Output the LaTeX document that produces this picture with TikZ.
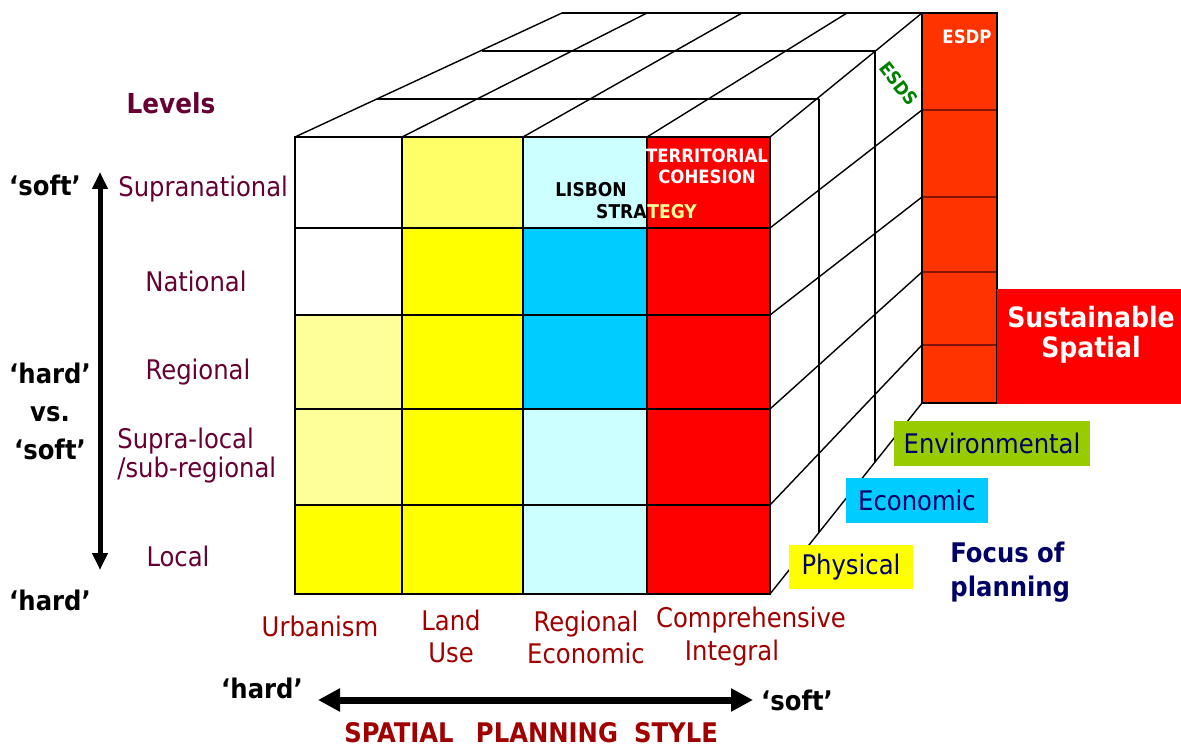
\documentclass[tikz,border=0pt]{standalone}
\usepackage{fontspec}
\setmainfont{DejaVu Sans Condensed}
\usetikzlibrary{arrows.meta}
\definecolor{maroon}{RGB}{102,0,51}
\definecolor{dred}{RGB}{160,0,0}
\definecolor{navy}{RGB}{0,0,102}
\definecolor{cyel}{RGB}{255,255,0}
\definecolor{lyel}{RGB}{255,255,102}
\definecolor{pyel}{RGB}{255,255,153}
\definecolor{ccyan}{RGB}{0,204,255}
\definecolor{lcyan}{RGB}{204,255,255}
\definecolor{cred}{RGB}{255,0,0}
\definecolor{corange}{RGB}{255,51,0}
\definecolor{cgreen}{RGB}{153,204,0}
\definecolor{tgreen}{RGB}{0,128,0}
\definecolor{tyel}{RGB}{255,255,153}
\tikzset{
  gridline/.style={draw=black, line width=0.7pt},
  lvl/.style={text=maroon, inner sep=0pt, font=\fontsize{13.5}{14.5}\selectfont},
  hs/.style={text=black, inner sep=0pt, align=center, font=\bfseries\fontsize{13.5}{19}\selectfont},
  stylelab/.style={text=dred, inner sep=0pt, align=center, font=\fontsize{13.5}{16}\selectfont},
  focuslab/.style={text=navy, inner sep=0pt, font=\fontsize{13.5}{16}\selectfont},
  smallbold/.style={inner sep=0pt, align=center, font=\bfseries\fontsize{9.2}{10.5}\selectfont},
  bigarrow/.style={line width=2.5pt, {Triangle[length=8.5pt,width=7.5pt]}-{Triangle[length=8.5pt,width=7.5pt]}},
  harrow/.style={line width=3.5pt, {Triangle[length=11pt,width=11pt]}-{Triangle[length=11pt,width=11pt]}}
}
\begin{document}
\begin{tikzpicture}[x=0.5pt,y=-0.5pt]
\useasboundingbox (0,0) rectangle (1181,747);
% ---------- front face cells ----------
% row 1
\fill[white] (295,137) rectangle (402,228);
\fill[lyel]  (402,137) rectangle (523,228);
\fill[lcyan] (523,137) rectangle (647,228);
\fill[cred]  (647,137) rectangle (770,228);
% row 2
\fill[white] (295,228) rectangle (402,315);
\fill[cyel]  (402,228) rectangle (523,315);
\fill[ccyan] (523,228) rectangle (647,315);
\fill[cred]  (647,228) rectangle (770,315);
% row 3
\fill[pyel]  (295,315) rectangle (402,409);
\fill[cyel]  (402,315) rectangle (523,409);
\fill[ccyan] (523,315) rectangle (647,409);
\fill[cred]  (647,315) rectangle (770,409);
% row 4
\fill[pyel]  (295,409) rectangle (402,505);
\fill[cyel]  (402,409) rectangle (523,505);
\fill[lcyan] (523,409) rectangle (647,505);
\fill[cred]  (647,409) rectangle (770,505);
% row 5
\fill[cyel]  (295,505) rectangle (402,594);
\fill[cyel]  (402,505) rectangle (523,594);
\fill[lcyan] (523,505) rectangle (647,594);
\fill[cred]  (647,505) rectangle (770,594);
% front grid
\draw[gridline] (295,137) rectangle (770,594);
\foreach \yy in {228,315,409,505} \draw[gridline] (295,\yy) -- (770,\yy);
\foreach \xx in {402,523,647} \draw[gridline] (\xx,137) -- (\xx,594);
% ---------- top face ----------
\draw[gridline] (295,137) -- (562,13);
\draw[gridline] (402,137) -- (647,13);
\draw[gridline] (523,137) -- (742,13);
\draw[gridline] (647,137) -- (847,13);
\draw[gridline] (770,137) -- (922,13);
\draw[gridline] (377,99) -- (819,99);
\draw[gridline] (482,51) -- (875,51);
\draw[gridline] (562,13) -- (922,13);
% ---------- right face ----------
\draw[gridline] (819,99) -- (819,532);
\draw[gridline] (875,51) -- (875,462);
\draw[gridline] (770,228) -- (922,110);
\draw[gridline] (770,315) -- (922,197);
\draw[gridline] (770,409) -- (922,272);
\draw[gridline] (770,505) -- (922,345);
\draw[gridline] (770,594) -- (922,403);
% ---------- ESDP column ----------
\fill[corange] (922,13) rectangle (997,403);
\foreach \yy in {110,197,272,345} \draw[line width=0.7pt, draw={rgb,255:red,130;green,20;blue,0}] (922,\yy) -- (997,\yy);
\draw[gridline] (922,13) rectangle (997,403);
% ---------- Sustainable box ----------
\fill[cred] (997,289) rectangle (1181,404);
\node[inner sep=0pt, text=white, align=center, font=\bfseries\fontsize{14}{15}\selectfont] (sust) at (1091,335) {Sustainable\\Spatial};
% ---------- focus boxes ----------
\node[focuslab, fill=cgreen, minimum width=98pt, minimum height=22.5pt] (env) at (992,443.5) {Environmental};
\node[focuslab, fill=ccyan, minimum width=71pt, minimum height=22.5pt] (eco) at (917,500.5) {Economic};
\node[focuslab, fill=cyel, minimum width=62pt, minimum height=22pt] (phy) at (851,567) {Physical};
\node[focuslab, anchor=west, align=left, font=\bfseries\fontsize{13.5}{17}\selectfont] (focus) at (950,572) {Focus of\\planning};
% ---------- cube labels ----------
\node[smallbold, text=white] (esdp) at (967,37) {ESDP};
\node[smallbold, text=tgreen, rotate=-52] (esds) at (899,84) {ESDS};
\node[smallbold, text=white] (terr) at (707,166) {TERRITORIAL\\COHESION};
\node[smallbold, text=black, font=\bfseries\fontsize{9.5}{10.5}\selectfont] (lisbon) at (591,190) {LISBON};
\node[smallbold, text=black, anchor=east, font=\bfseries\fontsize{9.5}{10.5}\selectfont] (stra) at (647,212) {STRA};
\node[smallbold, text=tyel, anchor=west, font=\bfseries\fontsize{9.5}{10.5}\selectfont] (tegy) at (stra.east) {TEGY};
% ---------- level labels ----------
\node[text=maroon, inner sep=0pt, font=\bfseries\fontsize{13.75}{16}\selectfont] (levels) at (171,103) {Levels};
\node[lvl, anchor=west] (supra) at (118,189) {Supranational};
\node[lvl] (nat) at (196,281) {National};
\node[lvl] (reg) at (198,372) {Regional};
\node[lvl, anchor=west, align=left] (supl) at (117,456) {Supra-local\\/sub-regional};
\node[lvl] (loc) at (178,556) {Local};
% left hard/soft labels
\node[hs] (vsoft) at (45,185) {‘soft’};
\node[hs] (vhs) at (50,411) {‘hard’\\vs.\\‘soft’};
\node[hs] (vhard) at (50,600) {‘hard’};
\coordinate (vtop) at (100,172);
\coordinate (vbot) at (100,570);
\draw[bigarrow] (vbot) -- (vtop);
% ---------- style labels ----------
\node[stylelab] (urb) at (320,626) {Urbanism};
\node[stylelab] (land) at (451,636) {Land\\Use};
\node[stylelab] (rege) at (586,637) {Regional\\Economic};
\node[stylelab] (comp) at (751,620) {Comprehensive};
\node[stylelab] (integ) at (732,653) {Integral};
\node[hs] (hhard) at (262,688) {‘hard’};
\node[hs] (hsoft) at (797,700) {‘soft’};
\coordinate (hl) at (318,700);
\coordinate (hr) at (753,700);
\draw[harrow] (hl) -- (hr);
\node[hs, text=dred] (sp1) at (399,733) {SPATIAL};
\node[hs, text=dred] (sp2) at (547,733) {PLANNING};
\node[hs, text=dred] (sp3) at (676,733) {STYLE};
\end{tikzpicture}
\end{document}
